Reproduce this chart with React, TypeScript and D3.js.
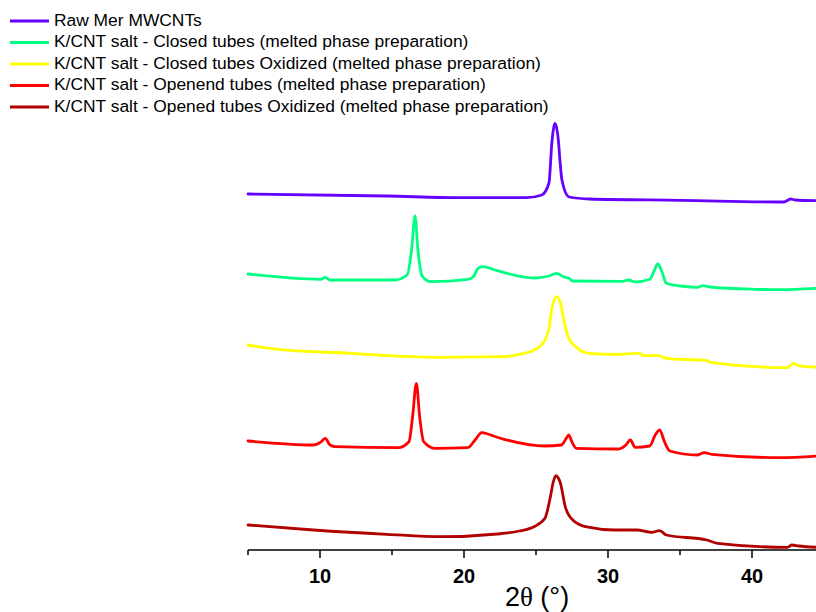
import React from "react";
import * as d3 from "d3";

// 2θ (degrees) and stacked intensity (a.u., offset per pattern)
const rawX = [5.0, 14.65, 19.75, 24.35, 25.4, 25.9, 26.1, 26.2, 26.3, 26.4, 26.55, 26.65, 26.8, 27.3, 28.7, 35.07, 42.2, 42.7, 43.0, 44.5];
const rawY = [356, 354, 352.3, 352.3, 355, 367, 407, 420, 426.7, 424, 410, 392, 370, 353, 351, 349.7, 348, 351, 350, 349.3];

const closedX = [5.0, 10.05, 10.36, 10.7, 15.16, 16.05, 16.36, 16.6, 16.8, 17.12, 17.7, 20.26, 20.65, 20.98, 21.3, 22.3, 24.86, 25.9, 26.44, 26.9, 27.28, 27.54, 31.0, 31.44, 31.88, 32.9, 33.23, 33.46, 33.74, 34.05, 35.07, 36.2, 36.6, 37.1, 40.2, 42.0, 44.5];
const closedY = [276, 270.7, 272.7, 270, 270, 275, 300, 334, 300, 273.3, 268.3, 270.7, 273.3, 281.7, 283.3, 279.3, 272, 274, 276.7, 273.3, 271.7, 269, 268.7, 270, 268, 270.7, 280, 286, 278.3, 266.7, 264, 262.7, 264.3, 263, 260.7, 260.3, 261.7];

const closedOxX = [5.0, 6.48, 12.1, 18.2, 22.8, 23.84, 24.86, 25.5, 25.88, 26.13, 26.44, 26.7, 27.03, 27.28, 27.9, 28.7, 30.47, 32.13, 32.5, 33.5, 34.05, 36.86, 37.2, 42.47, 42.86, 43.24, 44.5];
const closedOxY = [205, 201.7, 196.7, 192.7, 193.3, 195.7, 200, 207.3, 220, 243.3, 253.3, 246.7, 223.3, 211.7, 201.7, 196.7, 195.7, 196.7, 194.3, 194.3, 191.7, 189.3, 187.3, 182.3, 186.7, 184.3, 182.7];

const openedX = [5.0, 9.54, 10.1, 10.36, 10.7, 11.07, 15.4, 16.18, 16.43, 16.69, 16.92, 17.2, 17.97, 20.26, 20.77, 21.23, 21.66, 22.05, 22.8, 25.6, 26.77, 27.1, 27.28, 27.49, 27.8, 30.73, 31.24, 31.55, 31.88, 32.9, 33.28, 33.59, 33.92, 34.3, 36.2, 36.7, 37.2, 41.96, 44.5];
const openedY = [109, 105, 108.3, 111.7, 105, 103.3, 102.3, 108.3, 133.3, 166.7, 133.3, 108.3, 101.7, 102.3, 110, 117.3, 116, 114, 110.7, 104, 105, 111.7, 115, 108.3, 101.7, 101, 105, 110, 102.7, 104, 115, 120, 108.3, 99, 95, 97.3, 95.7, 92.3, 94];

const openedOxX = [5.0, 9.54, 14.65, 18.48, 22.3, 23.84, 24.86, 25.62, 26.0, 26.2, 26.39, 26.55, 26.7, 27.03, 27.4, 28.43, 30.47, 32.0, 33.03, 33.59, 34.05, 36.86, 37.6, 42.47, 42.77, 43.24, 44.5];
const openedOxY = [25, 20, 15.7, 13.3, 16, 19, 23.3, 31.7, 53.3, 68, 74.3, 72, 66.7, 43.3, 32.3, 23.3, 20, 20, 17.7, 19.3, 15, 10, 6.7, 2.7, 5, 4, 2.7];

const seriesNames = [
  "Raw Mer MWCNTs",
  "K/CNT salt - Closed tubes (melted phase preparation)",
  "K/CNT salt - Closed tubes Oxidized (melted phase preparation)",
  "K/CNT salt - Openend tubes (melted phase preparation)",
  "K/CNT salt - Opened tubes Oxidized (melted phase preparation)",
];
const seriesColors = ["#6600FF", "#00FF80", "#FFFF00", "#FF0000", "#B00000"];

const majorTicks = [10, 20, 30, 40];
const minorTicks = [5, 15, 25, 35, 45];

export default function App() {
  const W = 816;
  const H = 612;
  const x = d3.scaleLinear().domain([5, 45]).range([248, 824]);
  const y = d3.scaleLinear().domain([0, 440]).range([550, 110]);
  const line = d3
    .line<[number, number]>()
    .x((d) => x(d[0]))
    .y((d) => y(d[1]))
    .curve(d3.curveMonotoneX);

  const xs = [rawX, closedX, closedOxX, openedX, openedOxX];
  const ys = [rawY, closedY, closedOxY, openedY, openedOxY];
  const axisY = y(0);

  return (
    <svg
      width={W}
      height={H}
      style={{ position: "absolute", left: 0, top: 0, background: "#fff" }}
      fontFamily="'Liberation Sans', Arial, sans-serif"
    >
      {xs.map((xv, i) => (
        <path
          key={i}
          d={line(xv.map((v, j) => [v, ys[i][j]] as [number, number])) || ""}
          fill="none"
          stroke={seriesColors[i]}
          strokeWidth={2.8}
          strokeLinejoin="round"
          strokeLinecap="round"
        />
      ))}

      {/* x axis */}
      <line x1={x(5)} x2={W} y1={axisY} y2={axisY} stroke="#000" strokeWidth={1.5} />
      {majorTicks.map((t) => (
        <g key={"M" + t}>
          <line x1={x(t)} x2={x(t)} y1={axisY} y2={axisY + 8} stroke="#000" strokeWidth={1.5} />
          <text x={x(t)} y={axisY + 28} textAnchor="middle" dominantBaseline="middle" fontWeight="bold" fontSize={20}>
            {t}
          </text>
        </g>
      ))}
      {minorTicks.map((t) => (
        <line key={"m" + t} x1={x(t)} x2={x(t)} y1={axisY} y2={axisY + 5} stroke="#000" strokeWidth={1.5} />
      ))}
      <text x={537} y={606} textAnchor="middle" fontSize={27}>
        2<tspan fontFamily="'Liberation Serif', 'Times New Roman', serif">θ</tspan> (°)
      </text>

      {/* legend */}
      {seriesNames.map((n, i) => {
        const ly = 21 + i * 21.5;
        return (
          <g key={n}>
            <line x1={10} x2={49} y1={ly} y2={ly} stroke={seriesColors[i]} strokeWidth={3} />
            <text x={54} y={ly} dominantBaseline="middle" fontSize={17.4}>
              {n}
            </text>
          </g>
        );
      })}
    </svg>
  );
}
